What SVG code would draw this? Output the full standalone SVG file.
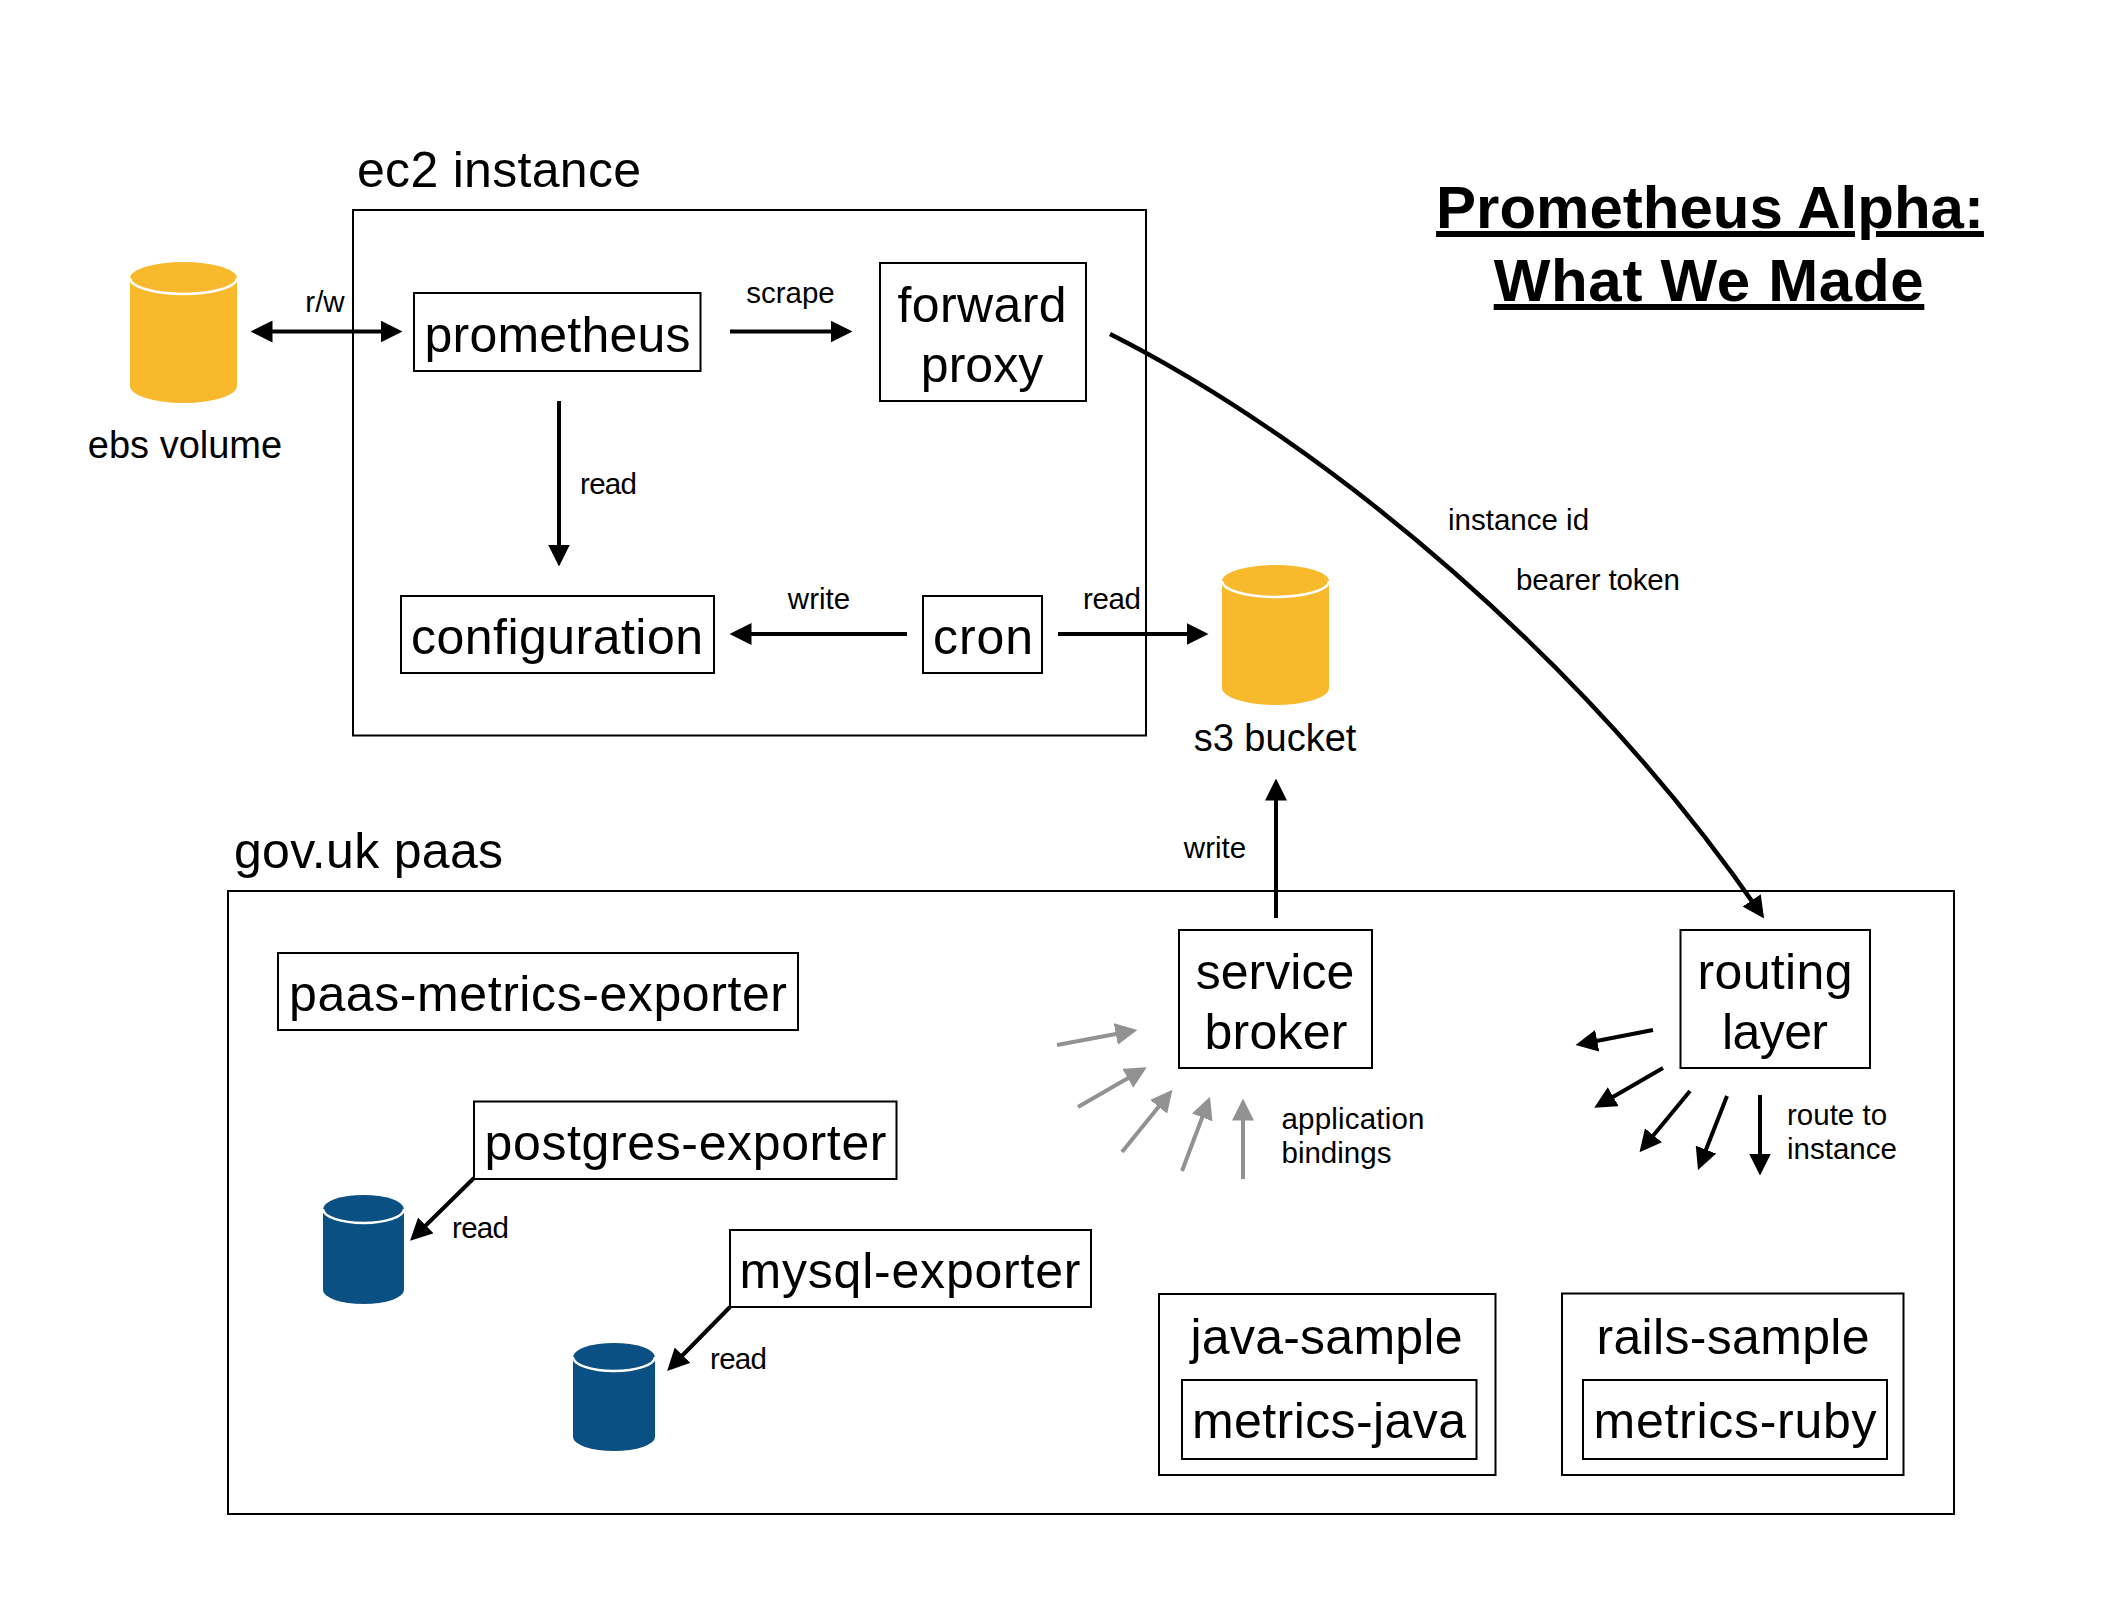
<svg xmlns="http://www.w3.org/2000/svg" width="2120" height="1599" viewBox="0 0 2120 1599">
<style>
text{font-family:"Liberation Sans",Arial,sans-serif;fill:#000}
.xl{font-size:50px}.m{font-size:38px}.s{font-size:29.500px}
.c{text-anchor:middle}
.t{font-size:60px;font-weight:700;text-anchor:middle;text-decoration:underline}
.b{fill:#fff;stroke:#000;stroke-width:2}
.f{fill:none;stroke:#000;stroke-width:2}
.a{fill:none;stroke:#000;stroke-width:4;marker-end:url(#ah)}
.g{fill:none;stroke:#929292;stroke-width:4;marker-end:url(#gh)}
.gold{fill:#f8b92c}.blue{fill:#0b5082}
.rim{fill:none;stroke:#fff;stroke-width:2.500}
</style>
<defs>
<marker id="ah" markerUnits="userSpaceOnUse" markerWidth="22" markerHeight="22" refX="15" refY="10" orient="auto-start-reverse" viewBox="0 0 20 20"><path d="M0 0L20 10L0 20z" fill="#000"/></marker>
<marker id="gh" markerUnits="userSpaceOnUse" markerWidth="22" markerHeight="22" refX="15" refY="10" orient="auto" viewBox="0 0 20 20"><path d="M0 0L20 10L0 20z" fill="#929292"/></marker>
</defs>
<rect width="2120" height="1599" fill="#fff"/>
<g id="title"><text class="t" x="1710" y="228">Prometheus Alpha:</text><text class="t" x="1709" y="301" letter-spacing="0.700">What We Made</text></g>
<g id="ec2-instance"><rect class="f" x="353" y="210" width="793" height="525.500"/><text class="xl" x="357" y="187" textLength="284">ec2 instance</text></g>
<g id="gov-uk-paas"><rect class="f" x="228" y="891" width="1726" height="623"/><text class="xl" x="234" y="868" textLength="269">gov.uk paas</text></g>
<g id="ebs-volume"><path class="gold" d="M130 278a53.500 16 0 0 1 107 0V386a53.500 17 0 0 1 -107 0z"/><path class="rim" d="M130 278a53.500 16 0 0 0 107 0"/><text class="m c" x="185" y="458">ebs volume</text></g>
<g id="s3-bucket"><path class="gold" d="M1222 581a53.500 16 0 0 1 107 0V688a53.500 17 0 0 1 -107 0z"/><path class="rim" d="M1222 581a53.500 16 0 0 0 107 0"/><text class="m c" x="1275" y="751">s3 bucket</text></g>
<g id="postgres-db"><path class="blue" d="M323 1209a40.500 14 0 0 1 81 0V1290a40.500 14 0 0 1 -81 0z"/><path class="rim" d="M323 1209a40.500 14 0 0 0 81 0"/></g>
<g id="mysql-db"><path class="blue" d="M573 1357a41 14 0 0 1 82 0V1437a41 14 0 0 1 -82 0z"/><path class="rim" d="M573 1357a41 14 0 0 0 82 0"/></g>
<g id="prometheus"><rect class="b" x="414" y="293" width="286.500" height="78"/><text class="xl c" x="557.500" y="352" textLength="266">prometheus</text></g>
<g id="forward-proxy"><rect class="b" x="880" y="263" width="206" height="138"/><text class="xl c" x="982" y="322" textLength="169">forward</text><text class="xl c" x="982" y="382">proxy</text></g>
<g id="configuration"><rect class="b" x="401" y="596" width="313" height="77"/><text class="xl c" x="557" y="654" textLength="292">configuration</text></g>
<g id="cron"><rect class="b" x="923" y="596" width="119" height="77"/><text class="xl c" x="983" y="654" textLength="100">cron</text></g>
<g id="paas-metrics-exporter"><rect class="b" x="278" y="953" width="520" height="77"/><text class="xl c" x="538" y="1011" textLength="498">paas-metrics-exporter</text></g>
<g id="postgres-exporter"><rect class="b" x="474" y="1101.500" width="422.500" height="77.500"/><text class="xl c" x="685.500" y="1160" textLength="402">postgres-exporter</text></g>
<g id="mysql-exporter"><rect class="b" x="730" y="1230" width="361" height="77"/><text class="xl c" x="910" y="1288" textLength="341">mysql-exporter</text></g>
<g id="service-broker"><rect class="b" x="1179" y="930" width="193" height="138"/><text class="xl c" x="1275" y="988.500">service</text><text class="xl c" x="1276" y="1048.500" textLength="143">broker</text></g>
<g id="routing-layer"><rect class="b" x="1680.500" y="930" width="189.500" height="138"/><text class="xl c" x="1775" y="988.500" textLength="155">routing</text><text class="xl c" x="1775" y="1048.500" textLength="106">layer</text></g>
<g id="java-sample"><rect class="b" x="1159" y="1294" width="336.500" height="181"/><text class="xl c" x="1326.500" y="1353.500" textLength="272">java-sample</text><rect class="b" x="1182" y="1380" width="294.500" height="79"/><text class="xl c" x="1329" y="1438" textLength="274">metrics-java</text></g>
<g id="rails-sample"><rect class="b" x="1562" y="1293.500" width="341.500" height="181.500"/><text class="xl c" x="1733" y="1353.500" textLength="273">rails-sample</text><rect class="b" x="1583" y="1380" width="304" height="79"/><text class="xl c" x="1735" y="1438" textLength="283">metrics-ruby</text></g>
<g id="connectors">
<path class="a" style="marker-start:url(#ah)" d="M256 331.500H397"/>
<path class="a" d="M730 331.500H847"/>
<path class="a" d="M559 401V561"/>
<path class="a" d="M907 634H735"/>
<path class="a" d="M1058 634H1203"/>
<path class="a" d="M1276 918V784"/>
<path class="a" style="stroke-width:4.500" d="M1110 334C1330 445 1590 665 1761 914"/>
<path class="a" d="M474 1178L414 1237"/>
<path class="a" d="M730 1307L671 1367"/>
<path class="g" d="M1057 1045L1132 1031"/>
<path class="g" d="M1078 1107L1142 1070"/>
<path class="g" d="M1122 1152L1169 1094"/>
<path class="g" d="M1182 1171L1208 1102"/>
<path class="g" d="M1243 1179V1104"/>
<path class="a" d="M1653 1030L1581 1044"/>
<path class="a" d="M1663 1068L1599 1105"/>
<path class="a" d="M1690 1091L1643 1148"/>
<path class="a" d="M1727 1096L1700 1165"/>
<path class="a" d="M1760 1095V1170"/>
</g>
<g id="labels">
<text class="s c" x="325" y="311.500">r/w</text>
<text class="s c" x="790.500" y="303">scrape</text>
<text class="s" x="580" y="493.500" textLength="57">read</text>
<text class="s c" x="819" y="608.500">write</text>
<text class="s c" x="1112" y="608.500" textLength="58">read</text>
<text class="s c" x="1215" y="857.500">write</text>
<text class="s" x="1448" y="530">instance id</text>
<text class="s" x="1516" y="590" textLength="164">bearer token</text>
<text class="s" x="452" y="1237.500" textLength="57">read</text>
<text class="s" x="710" y="1368.500" textLength="57">read</text>
<text class="s" x="1281.500" y="1128.500" textLength="143">application</text>
<text class="s" x="1281.500" y="1162.500">bindings</text>
<text class="s" x="1787" y="1124.500">route to</text>
<text class="s" x="1787" y="1158.500">instance</text>
</g>
</svg>
